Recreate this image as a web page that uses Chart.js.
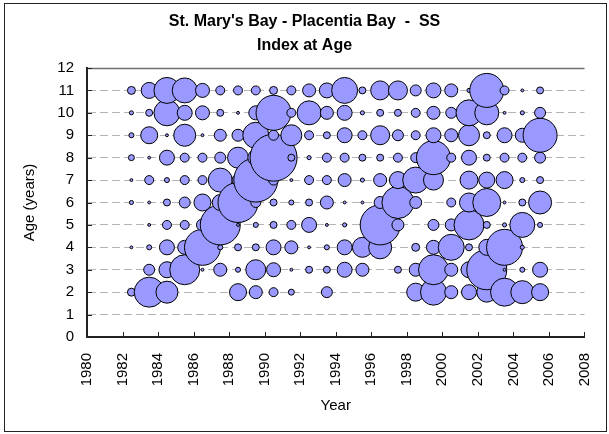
<!DOCTYPE html>
<html>
<head>
<meta charset="utf-8">
<script src="https://cdn.jsdelivr.net/npm/chart.js@4.4.1/dist/chart.umd.min.js"></script>
<style>
  html, body { margin: 0; padding: 0; background: #fff; }
  canvas { display: block; }
</style>
</head>
<body>
<canvas id="c" width="609" height="434"></canvas>
<script>
// Survey years (bubble centres fall mid-year)
const years = [1982.5, 1983.5, 1984.5, 1985.5, 1986.5, 1987.5, 1988.5, 1989.5, 1990.5, 1991.5, 1992.5, 1993.5,
               1994.5, 1995.5, 1996.5, 1997.5, 1998.5, 1999.5, 2000.5, 2001.5, 2002.5, 2003.5, 2004.5, 2005.5];
const ages = [2, 3, 4, 5, 6, 7, 8, 9, 10, 11];

// Index at age (relative abundance), one array per age, one value per year
const age2  = [3.0, 42.5, 22.9, 0, 0, 0, 13.7, 8.0, 3.8, 1.7, 0, 5.7, 0, 0, 0, 0, 15.3, 31.9, 8.0, 10.6, 18.9, 37.1, 25.0, 13.7];
const age3  = [0, 5.7, 12.1, 42.5, 0.4, 8.0, 1.2, 18.9, 9.3, 0.4, 2.3, 2.3, 10.6, 8.0, 0, 2.3, 8.0, 42.5, 8.0, 12.1, 75.6, 0.4, 1.2, 10.6];
const age4  = [0.4, 1.2, 10.6, 9.3, 61.2, 1.2, 2.3, 2.3, 10.6, 8.0, 0.4, 1.2, 10.6, 18.9, 25.0, 0, 3.0, 9.3, 31.9, 2.3, 12.1, 61.2, 0.8, 0];
const age5  = [0, 0.4, 3.8, 3.8, 6.8, 75.6, 0.4, 1.2, 2.3, 3.8, 10.6, 0.4, 0.8, 0.8, 75.6, 6.8, 0, 5.7, 6.8, 42.5, 2.3, 0.8, 29.5, 1.2];
const age6  = [0.8, 0.4, 2.3, 5.7, 13.7, 12.1, 75.6, 4.7, 2.3, 1.2, 2.3, 8.0, 0.4, 0.4, 6.8, 48.4, 6.8, 0, 3.8, 17.1, 37.1, 0.4, 2.3, 25.0];
const age7  = [0.4, 3.8, 1.2, 3.8, 3.8, 27.2, 6.8, 91.5, 4.7, 0.4, 3.8, 3.8, 8.0, 0.8, 8.0, 13.7, 31.9, 18.9, 0, 15.3, 12.1, 13.7, 1.2, 2.3];
const age8  = [1.7, 0.4, 10.6, 3.8, 3.8, 5.7, 20.8, 12.1, 104.4, 2.3, 0.8, 3.8, 3.8, 2.3, 2.3, 3.8, 4.7, 54.6, 3.8, 10.6, 2.3, 3.8, 3.8, 5.7];
const age9  = [1.2, 13.7, 0.4, 22.9, 0.4, 6.8, 6.8, 31.9, 4.7, 20.8, 3.8, 2.3, 10.6, 3.8, 17.1, 5.7, 3.8, 10.6, 8.0, 20.8, 2.3, 10.6, 9.3, 54.6];
const age10 = [0.8, 2.3, 31.9, 10.6, 9.3, 2.3, 0.4, 9.3, 57.9, 3.8, 27.2, 8.0, 10.6, 0.8, 2.3, 2.3, 3.8, 8.0, 5.7, 31.9, 27.2, 0.4, 0.8, 5.7];
const age11 = [3.0, 12.1, 31.9, 29.5, 9.3, 3.8, 3.8, 3.8, 3.0, 3.8, 8.0, 10.6, 31.9, 2.3, 17.1, 17.1, 5.7, 10.6, 8.0, 0.8, 54.6, 3.8, 0.4, 2.3];

const xTicks = [1980, 1982, 1984, 1986, 1988, 1990, 1992, 1994, 1996, 1998, 2000, 2002, 2004, 2006, 2008];
const yTicks = [0, 1, 2, 3, 4, 5, 6, 7, 8, 9, 10, 11, 12];

const byAge = [age2, age3, age4, age5, age6, age7, age8, age9, age10, age11];
const SIZE = 2.3; // bubble radius scale: r = SIZE * sqrt(index)

const points = [];
years.forEach((yr, i) => {
  ages.forEach((a, j) => {
    const v = byAge[j][i];
    if (v > 0) points.push({ x: yr, y: a, r: SIZE * Math.sqrt(v), v: v });
  });
});

const FONT = "'Liberation Sans', Arial, Helvetica, sans-serif";
Chart.defaults.font.family = FONT;
Chart.defaults.color = '#000';

const decor = {
  id: 'decor',
  afterDraw(chart) {
    const { ctx, chartArea: a, scales } = chart;
    ctx.save();
    // outer frame
    ctx.strokeStyle = '#222';
    ctx.lineWidth = 1;
    ctx.strokeRect(4.5, 3.5, 602, 428);
    // solid top line at the max of the y scale
    const yTop = Math.round(scales.y.getPixelForValue(yTicks[yTicks.length - 1])) + 0.5;
    ctx.strokeStyle = '#6e6e6e';
    ctx.lineWidth = 1.5;
    ctx.beginPath(); ctx.moveTo(a.left, yTop); ctx.lineTo(a.right, yTop); ctx.stroke();
    // inside tick marks
    ctx.strokeStyle = '#222';
    ctx.lineWidth = 1;
    ctx.beginPath();
    xTicks.forEach(t => {
      const px = Math.round(scales.x.getPixelForValue(t)) + 0.5;
      ctx.moveTo(px, a.bottom); ctx.lineTo(px, a.bottom - 5);
    });
    yTicks.forEach(t => {
      const py = Math.round(scales.y.getPixelForValue(t)) + 0.5;
      ctx.moveTo(a.left, py); ctx.lineTo(a.left + 5, py);
    });
    ctx.stroke();
    ctx.restore();
  }
};

new Chart(document.getElementById('c'), {
  type: 'bubble',
  data: {
    datasets: [{
      data: points,
      backgroundColor: '#9999FF',
      borderColor: '#000',
      borderWidth: 1,
      hoverRadius: 0,
      hoverBorderWidth: 1
    }]
  },
  options: {
    responsive: false,
    animation: false,
    devicePixelRatio: 1,
    layout: { padding: { left: 0, right: 0, top: 0, bottom: 0 } },
    plugins: {
      legend: { display: false },
      tooltip: { enabled: false },
      title: {
        display: true,
        text: ["St. Mary's Bay - Placentia Bay  -  SS", 'Index at Age'],
        font: { size: 16, weight: 'bold', lineHeight: 1.5 },
        color: '#000',
        padding: { top: 10, bottom: 10 }
      }
    },
    scales: {
      x: {
        type: 'linear',
        position: 'bottom',
        min: 1980,
        max: 2008,
        afterBuildTicks: s => { s.ticks = xTicks.map(v => ({ value: v })); },
        ticks: {
          font: { size: 15 },
          color: '#000',
          minRotation: 90,
          maxRotation: 90,
          padding: 8,
          callback: v => String(v)
        },
        grid: { display: false },
        border: { display: true, color: '#222', width: 2 },
        title: { display: true, text: 'Year', font: { size: 15 }, color: '#000', padding: { bottom: 19 } },
        afterFit: s => { s.height = 97; s.paddingRight = 9; s.paddingLeft = 0; }
      },
      y: {
        type: 'linear',
        min: 0,
        max: 12,
        afterBuildTicks: s => { s.ticks = yTicks.map(v => ({ value: v })); },
        ticks: { font: { size: 15 }, color: '#000', padding: 13, callback: v => String(v) },
        grid: {
          drawTicks: false,
          color: c => (c.tick && (c.tick.value === 0 || c.tick.value === 12)) ? 'rgba(0,0,0,0)' : '#b4b4b4',
          lineWidth: 1
        },
        border: { display: true, color: '#222', width: 2, dash: [8, 4] },
        title: { display: true, text: 'Age (years)', font: { size: 15 }, color: '#000', padding: { top: 21 } },
        afterFit: s => { s.width = 87; }
      }
    }
  },
  plugins: [decor]
});
</script>
</body>
</html>
